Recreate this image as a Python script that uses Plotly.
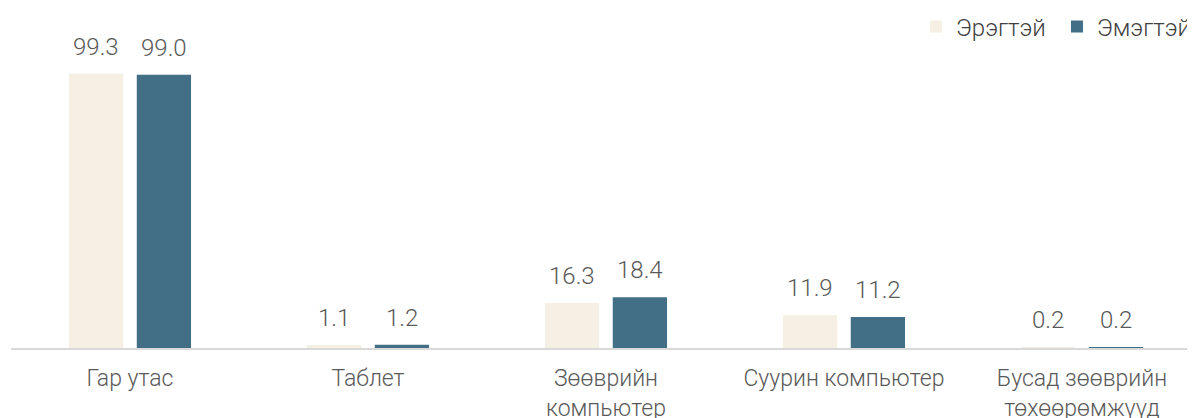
import plotly.graph_objects as go

categories = ["Гар утас", "Таблет", "Зөөврийн<br>компьютер", "Суурин компьютер", "Бусад зөөврийн<br>төхөөрөмжүүд"]
male = [99.3, 1.1, 16.3, 11.9, 0.2]
female = [99.0, 1.2, 18.4, 11.2, 0.2]
series_names = ["Эрэгтэй", "Эмэгтэй"]
colors = ["#F6F0E4", "#426E86"]

font_family = "Roboto"
bargap = 0.43
W, H = 1195, 418
fig = go.Figure()
xs = list(range(len(categories)))
for name, vals, col in zip(series_names, [male, female], colors):
    fig.add_trace(go.Bar(
        x=xs, y=vals, name=name,
        marker=dict(color=col, line=dict(width=0)),
    ))

# value labels above bars
slot = (1 - bargap) / 2
for k, vals in enumerate([male, female]):
    off = (k - 0.5) * slot
    for i, v in enumerate(vals):
        fig.add_annotation(x=i + off, y=v, text=f"{v:.1f}", showarrow=False,
                           yanchor="bottom", yshift=11,
                           font=dict(size=24, color="#595959", family=font_family, weight=300))

fig.update_layout(
    width=W, height=H,
    margin=dict(l=3, r=8, t=12, b=78, autoexpand=False),
    paper_bgcolor="white", plot_bgcolor="white",
    barmode="group", bargap=bargap, bargroupgap=0.2,
    font=dict(family=font_family, size=23, color="#595959", weight=300),
    legend=dict(orientation="h", xref="container", yref="container",
                x=0.7598, xanchor="left", y=1 - 19 / H, yanchor="middle",
                font=dict(size=24, color="#404040", weight=300), traceorder="normal",
                itemwidth=30, entrywidth=96),
    showlegend=True,
    xaxis=dict(tickmode="array", tickvals=xs, ticktext=categories,
               range=[-0.5, 4.475], showline=True, linecolor="#D9D9D9", linewidth=2,
               ticks="", showgrid=False, automargin=False, ticklabelstandoff=8,
               tickfont=dict(size=23, color="#595959", weight=300)),
    yaxis=dict(range=[0, 118.8], visible=False, showgrid=False, zeroline=False),
)
fig.write_html("out.html")
